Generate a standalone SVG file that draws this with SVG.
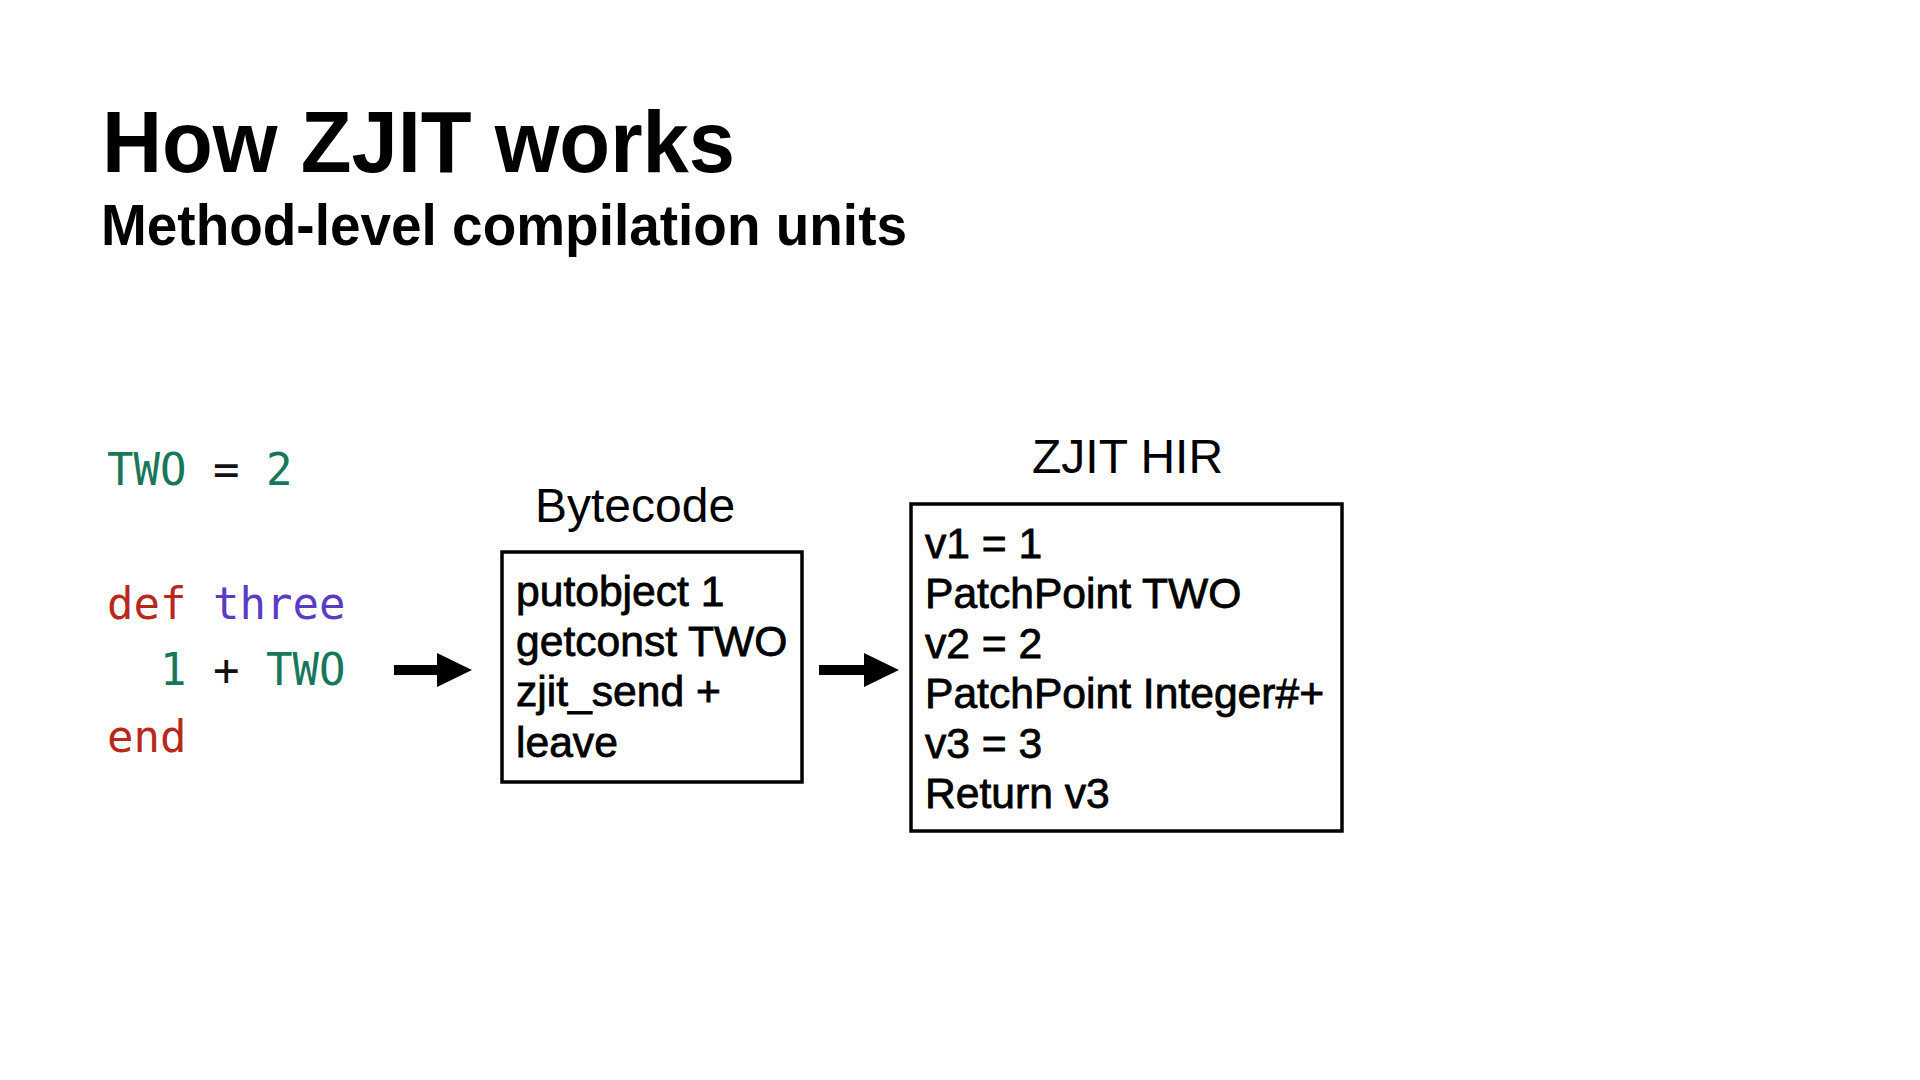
<svg xmlns="http://www.w3.org/2000/svg" width="1920" height="1080" viewBox="0 0 1920 1080">
<style>
.title{font-family:"Liberation Sans",Arial,sans-serif;font-weight:700;fill:#000}
.label{font-family:"Liberation Sans",Arial,sans-serif;font-size:48px;fill:#000}
.body{font-family:"Liberation Sans",Arial,sans-serif;font-size:42.6px;fill:#000;stroke:#000;stroke-width:0.8px}
.code{font-family:"DejaVu Sans Mono","Liberation Mono",monospace;font-size:44px}
.g{fill:#17775c}.r{fill:#b8281c}.p{fill:#5b3bc4}.k{fill:#111}
.box{fill:#fff;stroke:#000;stroke-width:3.5}
.conn{stroke:#000;stroke-width:10;fill:none}
</style>
<defs>
<marker id="ah" markerUnits="userSpaceOnUse" markerWidth="36" markerHeight="36" refX="0" refY="17" orient="auto" viewBox="0 0 36 34">
<path d="M0,0 L35,17 L0,34 Z" fill="#000"/>
</marker>
</defs>
<rect width="1920" height="1080" fill="#fff"/>
<g id="heading">
<text class="title" x="102" y="172" font-size="88" textLength="633" lengthAdjust="spacingAndGlyphs">How ZJIT works</text>
<text class="title" x="101" y="245" font-size="57" textLength="806" lengthAdjust="spacingAndGlyphs">Method-level compilation units</text>
</g>
<g id="source">
<text class="code" x="107" y="485" xml:space="preserve"><tspan class="g">TWO</tspan><tspan class="k"> = </tspan><tspan class="g">2</tspan></text>
<text class="code" x="107" y="619" xml:space="preserve"><tspan class="r">def</tspan><tspan class="k"> </tspan><tspan class="p">three</tspan></text>
<text class="code" x="107" y="685" xml:space="preserve"><tspan class="k">  </tspan><tspan class="g">1</tspan><tspan class="k"> + </tspan><tspan class="g">TWO</tspan></text>
<text class="code r" x="107" y="752">end</text>
</g>
<g id="bytecode">
<text class="label" x="535" y="522">Bytecode</text>
<rect class="box" x="502" y="552" width="300" height="230"/>
<text class="body" x="516" y="606">putobject 1</text>
<text class="body" x="516" y="656">getconst TWO</text>
<text class="body" x="516" y="706">zjit_send +</text>
<text class="body" x="516" y="757">leave</text>
</g>
<g id="hir">
<text class="label" x="1032" y="473">ZJIT HIR</text>
<rect class="box" x="911" y="504" width="431" height="327"/>
<text class="body" x="925" y="558">v1 = 1</text>
<text class="body" x="925" y="608">PatchPoint TWO</text>
<text class="body" x="925" y="658">v2 = 2</text>
<text class="body" x="925" y="708">PatchPoint Integer#+</text>
<text class="body" x="925" y="758">v3 = 3</text>
<text class="body" x="925" y="808">Return v3</text>
</g>
<g id="connectors">
<line class="conn" x1="394" y1="670" x2="437" y2="670" marker-end="url(#ah)"/>
<line class="conn" x1="819" y1="670" x2="864" y2="670" marker-end="url(#ah)"/>
</g>
</svg>
